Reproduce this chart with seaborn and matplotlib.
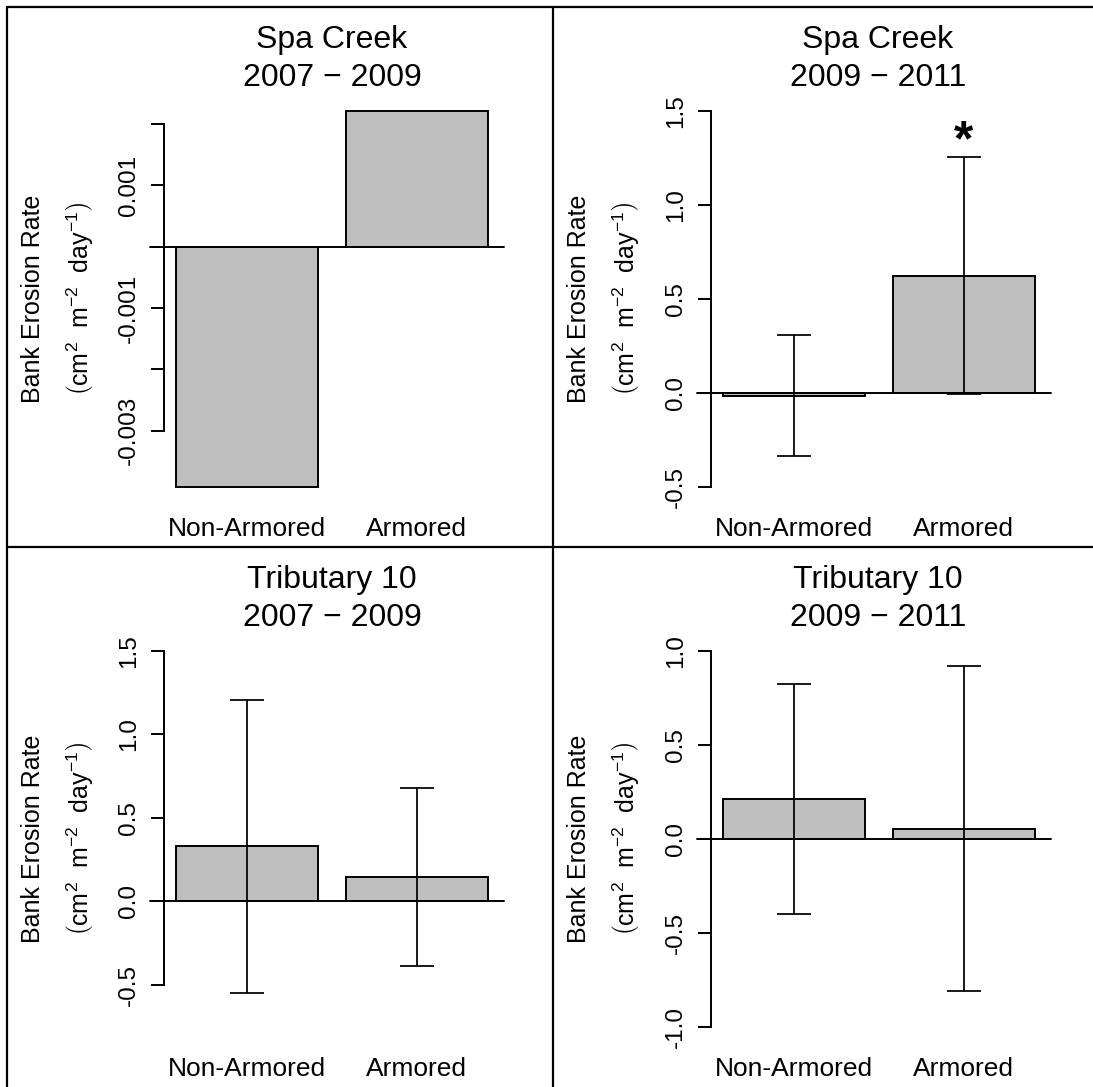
import matplotlib
matplotlib.use("Agg")
import matplotlib.pyplot as plt
from matplotlib.lines import Line2D
import seaborn as sns
import pandas as pd

# Data: mean bank erosion rate and +/- error for each site and period
categories = ["Non-Armored", "Armored"]

spa_0709_mean = [-0.00391, 0.00221]

spa_0911_mean = [-0.015, 0.624]
spa_0911_err = [0.320, 0.631]

trib_0709_mean = [0.329, 0.147]
trib_0709_err = [0.880, 0.535]

trib_0911_mean = [0.211, 0.054]
trib_0911_err = [0.612, 0.867]

panel_sites = ["Spa Creek", "Spa Creek", "Tributary 10", "Tributary 10"]
panel_periods = ["2007 \u2212 2009", "2009 \u2212 2011", "2007 \u2212 2009", "2009 \u2212 2011"]

spa_0709_ticks = [-0.003, -0.002, -0.001, 0.0, 0.001, 0.002]
spa_0709_ticklabels = ["-0.003", "", "-0.001", "", "0.001", ""]
spa_0911_ticks = [-0.5, 0.0, 0.5, 1.0, 1.5]
spa_0911_ticklabels = ["-0.5", "0.0", "0.5", "1.0", "1.5"]
trib_0709_ticks = [-0.5, 0.0, 0.5, 1.0, 1.5]
trib_0709_ticklabels = ["-0.5", "0.0", "0.5", "1.0", "1.5"]
trib_0911_ticks = [-1.0, -0.5, 0.0, 0.5, 1.0]
trib_0911_ticklabels = ["-1.0", "-0.5", "0.0", "0.5", "1.0"]

spa_0911_ylim = (-0.5, 1.5)
trib_0709_ylim = (-0.75, 1.5)
trib_0911_ylim = (-1.0, 1.0)

sns.set_style("white")
plt.rcParams["font.family"] = ["Liberation Sans", "DejaVu Sans"]
plt.rcParams["mathtext.fontset"] = "custom"
plt.rcParams["mathtext.rm"] = "Liberation Sans"
plt.rcParams["mathtext.it"] = "Liberation Sans:italic"
plt.rcParams["mathtext.default"] = "regular"
plt.rcParams["axes.unicode_minus"] = False
plt.rcParams["text.color"] = "black"
plt.rcParams["xtick.color"] = "black"
plt.rcParams["ytick.color"] = "black"
plt.rcParams["xtick.labelcolor"] = "black"
plt.rcParams["ytick.labelcolor"] = "black"

W, H = 1093, 1087
fig = plt.figure(figsize=(W / 100, H / 100), dpi=100)
fig.patch.set_facecolor("white")


def fx(px):
    return px / W


def fy(py):
    return 1 - py / H


def padded(lo, hi):
    d = 0.04 * (hi - lo)
    return lo - d, hi + d


panels = [
    dict(mean=spa_0709_mean, err=None, ylim=padded(min(spa_0709_mean), max(spa_0709_mean)),
         ticks=spa_0709_ticks, labels=spa_0709_ticklabels, star=False),
    dict(mean=spa_0911_mean, err=spa_0911_err, ylim=padded(*spa_0911_ylim),
         ticks=spa_0911_ticks, labels=spa_0911_ticklabels, star=True),
    dict(mean=trib_0709_mean, err=trib_0709_err, ylim=padded(*trib_0709_ylim),
         ticks=trib_0709_ticks, labels=trib_0709_ticklabels, star=False),
    dict(mean=trib_0911_mean, err=trib_0911_err, ylim=padded(*trib_0911_ylim),
         ticks=trib_0911_ticks, labels=trib_0911_ticklabels, star=False),
]

LW = 1.4
col_off = [0, 547]
row_off = [0, 540]
text_col_off = [0, 546]

for i, p in enumerate(panels):
    r, c = divmod(i, 2)
    x0 = 164 + col_off[c]
    x1 = 500 + col_off[c]
    yt = 96 + row_off[r]
    yb = 501.6 + row_off[r]
    ax = fig.add_axes([fx(x0), fy(yb), (x1 - x0) / W, (yb - yt) / H])
    ax.set_facecolor("none")

    df = pd.DataFrame({"bank": categories, "rate": p["mean"]})
    sns.barplot(data=df, x="bank", y="rate", ax=ax, color="#BEBEBE",
                saturation=1, edgecolor="black", linewidth=LW,
                width=1 / 1.2, errorbar=None, zorder=2)
    ax.set_xlim(-0.49, 1.49)
    ax.set_ylim(*p["ylim"])

    # zero reference line
    ax.plot([-0.5725, 1.513], [0, 0], color="black", lw=LW, clip_on=False, zorder=3)

    if p["err"] is not None:
        ax.errorbar([0, 1], p["mean"], yerr=p["err"], fmt="none", ecolor="black",
                    elinewidth=LW * 0.9, capsize=11.9, capthick=LW * 0.9, zorder=4)

    if p["star"]:
        top = p["mean"][1] + p["err"][1]
        ax.text(1, top - 0.045, "*", ha="center", va="bottom", fontsize=36,
                fontweight="bold", color="black")

    for s in ["top", "right", "bottom"]:
        ax.spines[s].set_visible(False)
    ax.spines["left"].set_linewidth(LW)
    ax.spines["left"].set_color("black")
    ax.spines["left"].set_bounds(min(p["ticks"]), max(p["ticks"]))

    ax.set_yticks(p["ticks"])
    ax.set_yticklabels(p["labels"], rotation=90, va="center", fontsize=17.5)
    ax.tick_params(axis="y", direction="out", length=9.4, width=LW, color="black",
                   left=True, pad=8)
    ax.set_xticks([0, 1])
    ax.set_xticklabels(categories, fontsize=19)
    ax.tick_params(axis="x", length=0, pad=11)
    ax.set_xlabel("")
    ax.set_ylabel("")

    # two-line title
    tx = 332 + text_col_off[c]
    fig.text(fx(tx), fy(40 + row_off[r]), panel_sites[i], ha="center", va="center", fontsize=23)
    fig.text(fx(tx), fy(78 + row_off[r]), panel_periods[i], ha="center", va="center", fontsize=23)

    # two-line y-axis label
    fig.text(fx(33 + text_col_off[c]), fy(298.8 + row_off[r]), "Bank Erosion Rate",
             rotation=90, ha="center", va="center", fontsize=18)
    fig.text(fx(80 + text_col_off[c]), fy(298.8 + row_off[r]),
             r"$\left(\mathrm{cm}^{2}\ \ \mathrm{m}^{-2}\ \ \mathrm{day}^{-1}\right)$",
             rotation=90, ha="center", va="center", fontsize=18)

# panel frame lines
for (xa, ya, xb, yb) in [(7, 7, 7, H), (7, 7, W, 7), (553, 7, 553, H), (7, 547, W, 547)]:
    fig.add_artist(Line2D([fx(xa), fx(xb)], [fy(ya), fy(yb)], color="black", lw=1.6))

fig.savefig("out.png", dpi=100)
